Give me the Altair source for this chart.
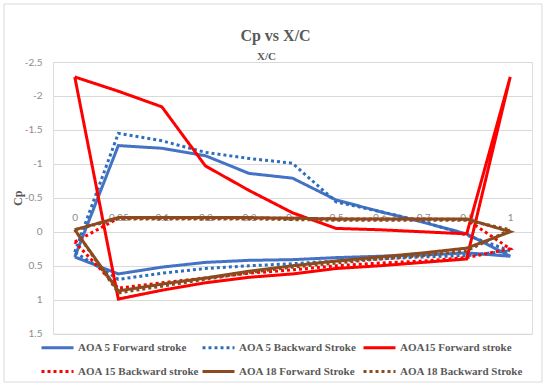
import altair as alt
import pandas as pd

# Category positions along the chord and their labels
x_labels = ["0", "0.05", "0.1", "0.2", "0.3", "0.4", "0.5", "0.6", "0.7", "0.8", "1"]

series_names = [
    "AOA 5 Forward stroke",
    "AOA 5 Backward Stroke",
    "AOA15 Forward stroke",
    "AOA 15 Backward stroke",
    "AOA 18 Forward Stroke",
    "AOA 18 Backward Stroke",
]
series_colors = ["#4472C4", "#2F6EBA", "#FF0000", "#FF0000", "#8C4B1E", "#8C4B1E"]
series_dashes = [[1, 0], [3, 3], [1, 0], [3, 3], [1, 0], [3, 3]]

# Pressure coefficient on the upper surface (leading edge -> trailing edge)
aoa5_fwd_upper = [0.37, -1.27, -1.23, -1.12, -0.86, -0.79, -0.47, -0.30, -0.14, 0.03, 0.36]
aoa5_bwd_upper = [0.30, -1.45, -1.34, -1.17, -1.08, -1.01, -0.44, -0.30, -0.15, 0.05, 0.28]
aoa15_fwd_upper = [-2.28, -2.07, -1.84, -0.97, -0.61, -0.28, -0.05, -0.03, 0.00, 0.03, -2.28]
aoa15_bwd_upper = [0.15, -0.20, -0.20, -0.20, -0.20, -0.20, -0.19, -0.19, -0.19, -0.18, 0.25]
aoa18_fwd_upper = [-0.03, -0.21, -0.21, -0.21, -0.21, -0.20, -0.19, -0.19, -0.19, -0.19, 0.00]
aoa18_bwd_upper = [-0.03, -0.19, -0.19, -0.19, -0.19, -0.18, -0.17, -0.17, -0.17, -0.17, -0.03]

# Pressure coefficient on the lower surface (leading edge -> trailing edge)
aoa5_fwd_lower = [0.37, 0.62, 0.52, 0.45, 0.42, 0.41, 0.38, 0.36, 0.34, 0.31, 0.36]
aoa5_bwd_lower = [0.30, 0.70, 0.61, 0.54, 0.50, 0.47, 0.43, 0.40, 0.37, 0.35, 0.28]
aoa15_fwd_lower = [-2.28, 0.99, 0.86, 0.75, 0.67, 0.62, 0.54, 0.50, 0.45, 0.40, -2.28]
aoa15_bwd_lower = [0.15, 0.83, 0.75, 0.68, 0.61, 0.56, 0.50, 0.46, 0.43, 0.38, 0.25]
aoa18_fwd_lower = [-0.03, 0.87, 0.77, 0.68, 0.58, 0.50, 0.43, 0.37, 0.31, 0.24, 0.00]
aoa18_bwd_lower = [-0.03, 0.90, 0.80, 0.70, 0.60, 0.52, 0.46, 0.40, 0.35, 0.28, -0.03]

upper = [aoa5_fwd_upper, aoa5_bwd_upper, aoa15_fwd_upper,
         aoa15_bwd_upper, aoa18_fwd_upper, aoa18_bwd_upper]
lower = [aoa5_fwd_lower, aoa5_bwd_lower, aoa15_fwd_lower,
         aoa15_bwd_lower, aoa18_fwd_lower, aoa18_bwd_lower]

# Each series is a closed loop: along the upper surface, then back along the lower one
rows = []
for name, up, lo in zip(series_names, upper, lower):
    n = len(up)
    for i in range(n):
        rows.append({"series": name, "pos": i, "cp": up[i], "step": i})
    for k, i in enumerate(reversed(range(n))):
        rows.append({"series": name, "pos": i, "cp": lo[i], "step": n + k})
df = pd.DataFrame(rows)

label_array = "[" + ",".join("'" + s + "'" for s in x_labels) + "]"

W, H = 479, 271.7
GREY_TXT = "#595959"
AXIS_TXT = "#8C8C8C"

legend = alt.Legend(
    title=None,
    orient="none",
    direction="horizontal",
    legendX=-13,
    legendY=268,
    columns=3,
    gridAlign="all",
    columnPadding=-10,
    rowPadding=-4,
    symbolType="stroke",
    symbolSize=1024,
    symbolStrokeWidth=3,
    labelFont="Liberation Serif",
    labelFontWeight="bold",
    labelFontSize=11,
    labelColor=GREY_TXT,
    labelOffset=3,
    labelLimit=0,
)

lines = alt.Chart(df).mark_line(strokeWidth=3, strokeCap="butt").encode(
    x=alt.X(
        "pos:Q",
        scale=alt.Scale(domain=[-0.5, 10.5], nice=False, zero=False),
        axis=alt.Axis(
            orient="top",
            offset=-169.5,
            values=list(range(len(x_labels))),
            labelExpr=label_array + "[datum.value]",
            domain=False,
            ticks=False,
            tickSize=0,
            grid=False,
            labelPadding=9,
            labelFont="Lato",
            labelFontSize=10,
            labelColor=AXIS_TXT,
            title="X/C",
            titleFont="Liberation Serif",
            titleFontWeight="bold",
            titleFontSize=11,
            titleColor=GREY_TXT,
            titleX=213,
            titleY=-175,
            titleAlign="center",
            titleBaseline="middle",
        ),
    ),
    y=alt.Y(
        "cp:Q",
        scale=alt.Scale(domain=[-2.5, 1.5], reverse=True, nice=False, zero=False),
        axis=alt.Axis(
            values=[-2.5, -2, -1.5, -1, -0.5, 0, 0.5, 1, 1.5],
            labelExpr="'' + datum.value",
            domain=False,
            ticks=False,
            grid=True,
            gridColor="#D9D9D9",
            gridWidth=1,
            labelPadding=11,
            labelFont="Lato",
            labelFontSize=10,
            labelColor=AXIS_TXT,
            title="Cp",
            titleFont="Liberation Serif",
            titleFontWeight="bold",
            titleFontSize=12,
            titleColor=GREY_TXT,
            titleX=-36,
            titleY=H / 2,
            titleAlign="center",
            titleBaseline="middle",
        ),
    ),
    color=alt.Color("series:N", scale=alt.Scale(domain=series_names, range=series_colors), legend=legend),
    strokeDash=alt.StrokeDash("series:N", scale=alt.Scale(domain=series_names, range=series_dashes), legend=legend),
    order="step:Q",
)

# Thin outer frame around the whole chart area
frame = alt.Chart(pd.DataFrame({"f": [0]})).mark_rect(
    filled=False, stroke="#D9D9D9", strokeWidth=1
).encode(
    x=alt.value(-49), x2=alt.value(489), y=alt.value(-58), y2=alt.value(320)
)

chart = alt.layer(frame, lines).properties(
    width=W,
    height=H,
    autosize="none",
    padding={"left": 53, "top": 62, "right": 14, "bottom": 51.3},
    title=alt.Title(
        "Cp vs X/C",
        font="Liberation Serif",
        fontSize=16,
        fontWeight="bold",
        color=GREY_TXT,
        anchor="middle",
        dx=-17,
        dy=44,
        offset=4,
    ),
).configure_view(stroke=None).configure(background="white")

chart.save("out.html", embed_options={"renderer": "svg", "actions": False})
